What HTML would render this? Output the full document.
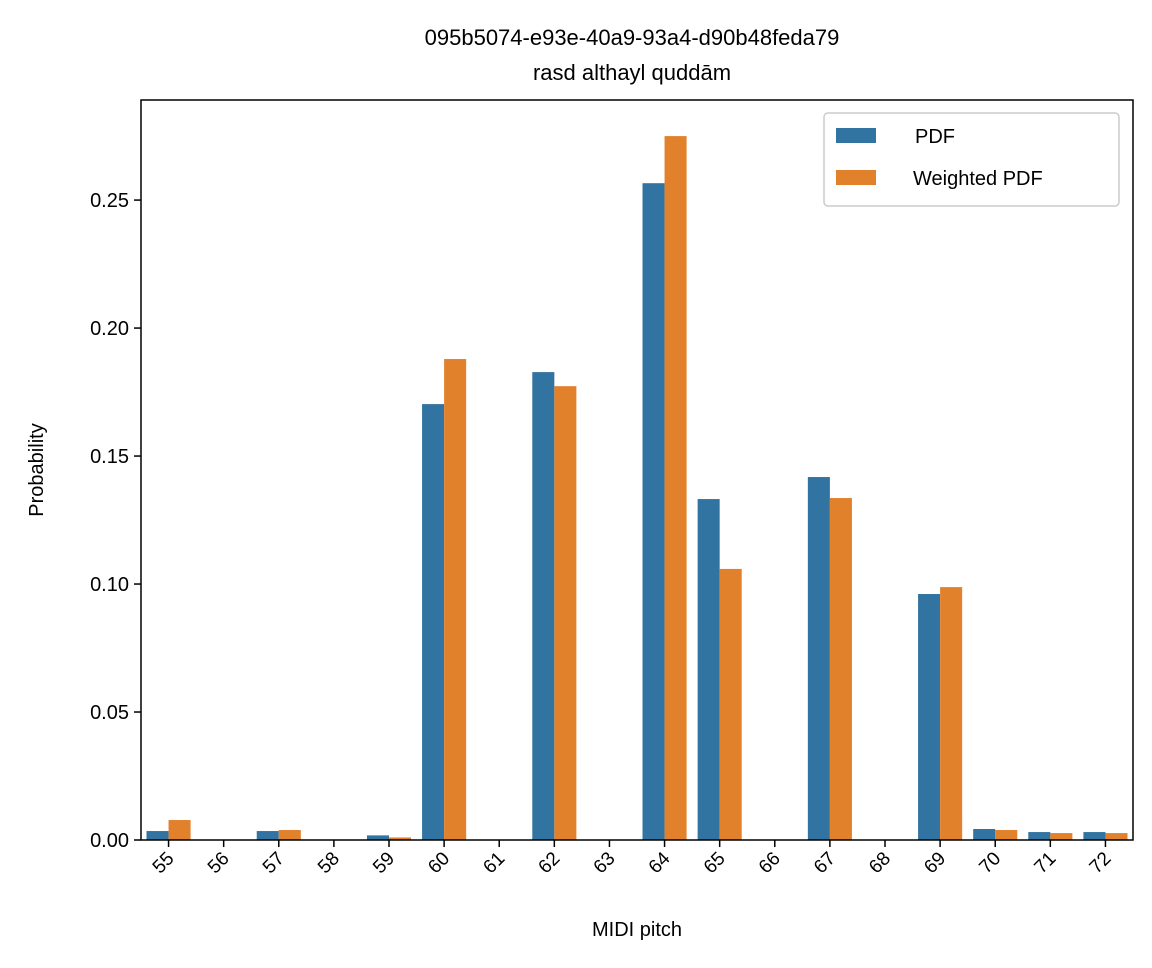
<!DOCTYPE html>
<html><head><meta charset="utf-8"><style>
body{margin:0;background:#fff;}
svg text{font-family:"Liberation Sans","DejaVu Sans",sans-serif;fill:#000;}
</style></head><body>
<svg id="chart" width="1152" height="963" xmlns="http://www.w3.org/2000/svg">
<text x="632" y="45" font-size="22" text-anchor="middle">095b5074-e93e-40a9-93a4-d90b48feda79</text>
<text x="632" y="80" font-size="22" text-anchor="middle">rasd althayl quddām</text>
<g id="bars"></g>
<g id="axes"></g>
<rect x="141" y="100" width="992" height="740" fill="none" stroke="#000" stroke-width="1.5"/>
<text x="637" y="936" font-size="20" text-anchor="middle">MIDI pitch</text>
<text transform="translate(43,470) rotate(-90)" font-size="20" text-anchor="middle">Probability</text>
<g>
<rect x="824" y="113" width="295" height="93" rx="4" fill="#fff" stroke="#ccc" stroke-width="1.5"/>
<rect x="836" y="128" width="40" height="15" fill="#3274a1"/>
<text x="915" y="143" font-size="20">PDF</text>
<rect x="836" y="170" width="40" height="15" fill="#e1812c"/>
<text x="913" y="185" font-size="20">Weighted PDF</text>
</g>
</svg>
<script>
const categories=["55","56","57","58","59","60","61","62","63","64","65","66","67","68","69","70","71","72"];
const pdfValues=[0.0035,0,0.0035,0,0.0018,0.1703,0,0.1828,0,0.2566,0.1332,0,0.1418,0,0.0961,0.0043,0.0031,0.0031];
const weightedValues=[0.0078,0,0.0039,0,0.0010,0.1879,0,0.1773,0,0.275,0.1059,0,0.1336,0,0.0988,0.0039,0.0027,0.0027];
const yTicks=[0,0.05,0.10,0.15,0.20,0.25];
const yTickLabels=["0.00","0.05","0.10","0.15","0.20","0.25"];
const L=141,R=1133,T=100,B=840,ymax=0.2891;
const NS="http://www.w3.org/2000/svg";
const bw=(R-L)/categories.length;
function x(i){return L+bw*(i+0.5);}
function y(v){return B-(v/ymax)*(B-T);}
const bars=document.getElementById('bars'),axes=document.getElementById('axes');
function mk(tag,attrs,parent){const e=document.createElementNS(NS,tag);for(const k in attrs)e.setAttribute(k,attrs[k]);parent.appendChild(e);return e;}
categories.forEach((c,i)=>{
 const w=bw*0.4;
 const b1=mk('rect',{x:x(i)-w,y:y(pdfValues[i]),width:w,height:B-y(pdfValues[i]),fill:'#3274a1'},bars);
 
 
 const b2=mk('rect',{x:x(i),y:y(weightedValues[i]),width:w,height:B-y(weightedValues[i]),fill:'#e1812c'},bars);
 
 
 const t=mk('line',{x1:x(i),x2:x(i),y1:B,y2:B+7,stroke:'#000','stroke-width':1.5},axes);
 
 
 const lb=mk('text',{'font-size':19,'text-anchor':'middle',transform:`translate(${x(i)-1},${B+27}) rotate(-45)`},axes);
 lb.textContent=c;
 
 
});
yTicks.forEach((v,i)=>{
 const t=mk('line',{x1:L-7,x2:L,y1:y(v),y2:y(v),stroke:'#000','stroke-width':1.5},axes);
 
 
 const lb=mk('text',{x:L-12,y:y(v)+7,'font-size':20,'text-anchor':'end'},axes);
 lb.textContent=yTickLabels[i];
 
 
});
</script>
</body></html>
